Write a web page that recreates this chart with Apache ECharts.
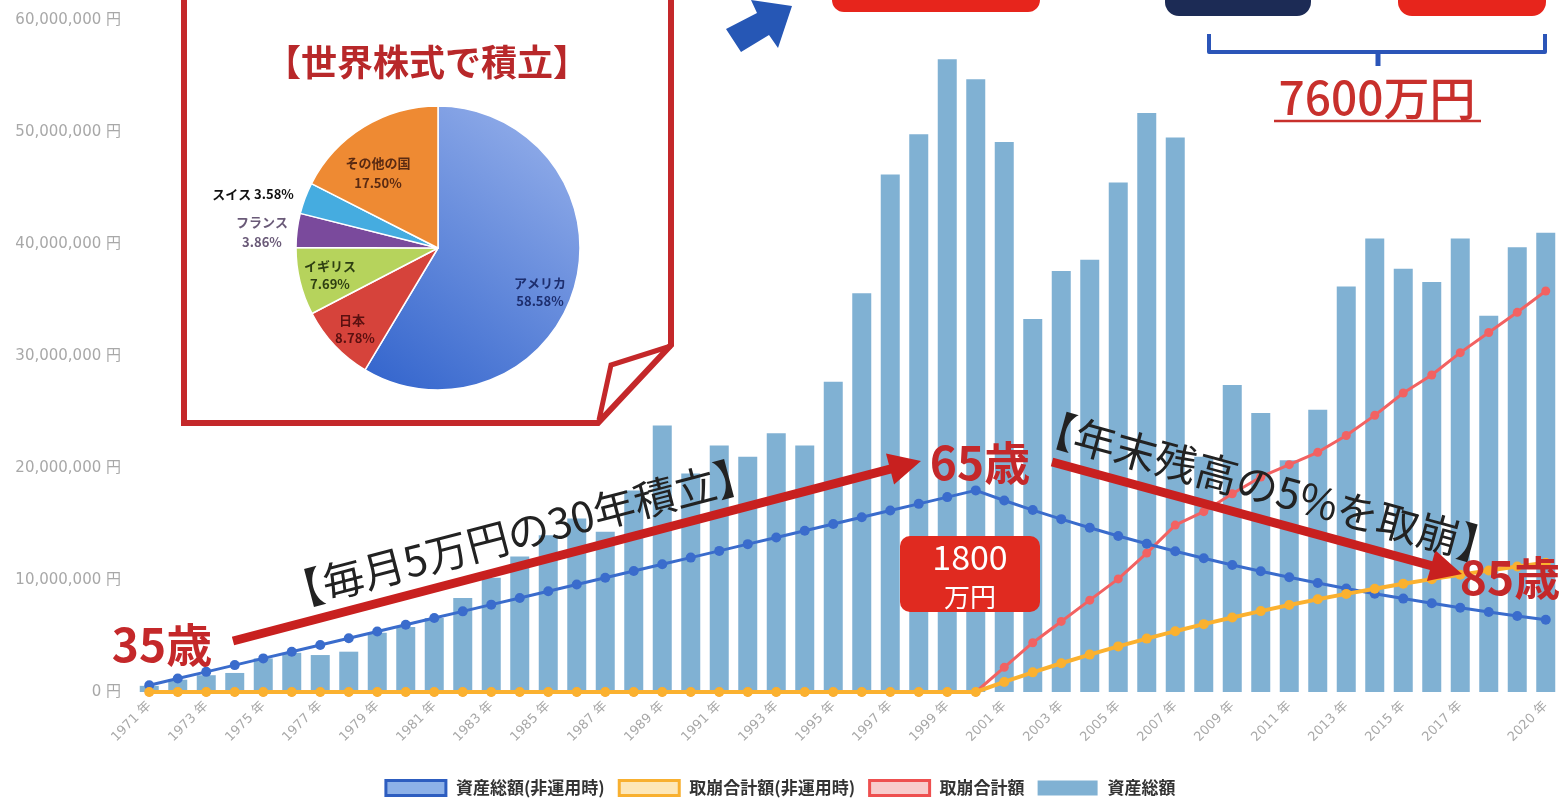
<!DOCTYPE html>
<html><head><meta charset="utf-8">
<script src="https://cdn.jsdelivr.net/npm/echarts@6/dist/echarts.min.js"></script>
<style>html,body{margin:0;padding:0;background:#fff}#c{width:1560px;height:805px}</style>
</head><body><div id="c"></div>
<script>
const years = ['1971','1972','1973','1974','1975','1976','1977','1978','1979','1980',
  '1981','1982','1983','1984','1985','1986','1987','1988','1989','1990',
  '1991','1992','1993','1994','1995','1996','1997','1998','1999','2000',
  '2001','2002','2003','2004','2005','2006','2007','2008','2009','2010',
  '2011','2012','2013','2014','2015','2016','2017','2018','2019','2020'];
// 資産総額 (bars)
const assetTotal = [550000,1100000,1500000,1700000,3000000,3500000,3300000,3600000,5300000,5800000,
  6600000,8400000,10200000,12100000,14000000,15500000,14300000,18000000,23800000,19500000,
  22000000,21000000,23100000,22000000,27700000,35600000,46200000,49800000,56500000,54700000,
  49100000,33300000,37600000,38600000,45500000,51700000,49500000,21000000,27400000,24900000,
  20700000,25200000,36200000,40500000,37800000,36600000,40500000,33600000,39700000,41000000];
// 資産総額(非運用時)
const assetNoInvest = [600000,1200000,1800000,2400000,3000000,3600000,4200000,4800000,5400000,6000000,
  6600000,7200000,7800000,8400000,9000000,9600000,10200000,10800000,11400000,12000000,
  12600000,13200000,13800000,14400000,15000000,15600000,16200000,16800000,17400000,18000000,
  17100000,16245000,15432750,14661113,13928057,13231654,12570071,11941568,11344489,10777265,
  10238402,9726482,9240158,8778150,8339242,7922280,7526166,7149858,6792365,6452747];
// 取崩合計額(非運用時)
const withdrawNoInvest = [0,0,0,0,0,0,0,0,0,0, 0,0,0,0,0,0,0,0,0,0, 0,0,0,0,0,0,0,0,0,0,
  900000,1755000,2567250,3338887,4071943,4768346,5429929,6058432,6655511,7222735,
  7761598,8273518,8759842,9221850,9660758,10077720,10473834,10850142,11207635,11547253];
// 取崩合計額
const withdrawTotal = [0,0,0,0,0,0,0,0,0,0, 0,0,0,0,0,0,0,0,0,0, 0,0,0,0,0,0,0,0,0,0,
  2200000,4400000,6300000,8200000,10100000,12400000,14900000,16100000,17700000,19200000,
  20300000,21400000,22900000,24700000,26700000,28300000,30300000,32100000,33900000,35800000];
const seriesNames = ['資産総額(非運用時)','取崩合計額(非運用時)','取崩合計額','資産総額'];
const pieNames = ['アメリカ','日本','イギリス','フランス','スイス','その他の国'];
const pieValues = [58.58,8.78,7.69,3.86,3.58,17.50];
const pieColors = ['#4a78d2','#d6433b','#b6d35c','#7a4a9c','#45ace0','#ee8a33'];

const F = '"Noto Sans CJK JP", "Noto Sans", sans-serif';
const RED = '#c4282a';
const chart = echarts.init(document.getElementById('c'));

function fmtYen(v){ return String(v).replace(/\B(?=(\d{3})+(?!\d))/g, ',') + ' 円'; }

function arrow(x1,y1,x2,y2,head,halfW,w,color){
  const dx=x2-x1, dy=y2-y1, L=Math.hypot(dx,dy), ux=dx/L, uy=dy/L, nx=-uy, ny=ux;
  const bx=x2-head*ux, by=y2-head*uy;
  return [
    {type:'line', z:300, shape:{x1:x1,y1:y1,x2:bx+ux*2,y2:by+uy*2}, style:{stroke:color,lineWidth:w}},
    {type:'polygon', z:300, shape:{points:[[x2,y2],[bx+halfW*nx,by+halfW*ny],[bx-halfW*nx,by-halfW*ny]]}, style:{fill:color}}
  ];
}
function txt(x,y,text,size,color,weight,extra){
  return Object.assign({type:'text', z:310, x:x, y:y, style:{text:text, x:0, y:0, fill:color, font:(weight||'normal')+' '+size+'px '+F, textAlign:'center', textVerticalAlign:'middle'}}, extra||{});
}

const graphics = [
  // inset box
  {type:'polygon', z:100, shape:{points:[[184,-10],[671,-10],[671,345],[598,423],[184,423]]}, style:{fill:'#fff', stroke:RED, lineWidth:6, lineJoin:'miter'}},
  {type:'polyline', z:101, shape:{points:[[671,346],[611,365],[599,420]]}, style:{stroke:RED, lineWidth:5, fill:null}},
  txt(427,62,'【世界株式で積立】',36,'#b8282a','bold'),
  // pie labels
  txt(378,163,'その他の国',13,'#5a2a12','bold'), txt(378,183,'17.50%',13,'#5a2a12','bold'),
  txt(253,194,'スイス 3.58%',13,'#111','bold'),
  txt(262,222,'フランス',13,'#6a5a78','bold'), txt(262,242,'3.86%',13,'#6a5a78','bold'),
  txt(330,266,'イギリス',13,'#2e3f12','bold'), txt(330,284,'7.69%',13,'#2e3f12','bold'),
  txt(352,320,'日本',13,'#5a1010','bold'), txt(355,338,'8.78%',13,'#5a1010','bold'),
  txt(540,283,'アメリカ',13,'#1d2e6e','bold'), txt(540,301,'58.58%',13,'#1d2e6e','bold'),
  // top decorations
  {type:'rect', z:300, shape:{x:832,y:-24,width:208,height:36,r:12}, style:{fill:'#e7251c'}},
  {type:'rect', z:300, shape:{x:1165,y:-24,width:146,height:40,r:14}, style:{fill:'#1c2b55'}},
  {type:'rect', z:300, shape:{x:1398,y:-24,width:148,height:40,r:14}, style:{fill:'#e7251c'}},
  {type:'polygon', z:300, shape:{points:[[726,29],[757,13],[751,0],[792,6],[778,48],[769,35],[741,52]]}, style:{fill:'#2657b5'}},
  {type:'polyline', z:300, shape:{points:[[1209,34],[1209,52],[1545,52],[1545,34]]}, style:{stroke:'#2b55b8', lineWidth:4, lineJoin:'round', fill:null}},
  {type:'line', z:300, shape:{x1:1378,y1:52,x2:1378,y2:66}, style:{stroke:'#2b55b8', lineWidth:5}},
  txt(1377,98,'7600万円',46,'#c8302c','500'),
  {type:'line', z:300, shape:{x1:1274,y1:121,x2:1481,y2:121}, style:{stroke:'#c8302c', lineWidth:2.5}},
  // annotations
  ...arrow(233,641,921,461,32,16,9,'#c8201f'),
  ...arrow(1052,462,1462,574,32,16,9,'#c8201f'),
  txt(519,533,'【毎月5万円の30年積立】',42,'#222','normal',{rotation:0.256}),
  txt(1267,487,'【年末残高の5%を取崩】',42,'#222','normal',{rotation:-0.267}),
  txt(162,645,'35歳',46,RED,'bold'),
  txt(980,463,'65歳',46,RED,'bold'),
  txt(1510,578,'85歳',46,RED,'bold'),
  {type:'rect', z:300, shape:{x:900,y:536,width:140,height:76,r:10}, style:{fill:'#e02a20'}},
  txt(970,557,'1800',34,'#fff','normal'),
  txt(970,597,'万円',26,'#fff','normal')
];

chart.setOption({
  animation:false,
  textStyle:{fontFamily:F},
  grid:{left:135, width:1427, top:20, bottom:113, containLabel:false},
  legend:{
    bottom:3, left:'center', icon:'rect', itemWidth:60, itemHeight:15, itemGap:13,
    textStyle:{fontSize:17, fontWeight:'bold', color:'#333', padding:[0,0,0,5]},
    data:[
      {name:seriesNames[0], itemStyle:{color:'#8db1e8', borderColor:'#2d5dc0', borderWidth:3}},
      {name:seriesNames[1], itemStyle:{color:'#fde7b8', borderColor:'#f8b030', borderWidth:3}},
      {name:seriesNames[2], itemStyle:{color:'#f8cccc', borderColor:'#ee5050', borderWidth:3}},
      {name:seriesNames[3], itemStyle:{color:'#80b1d3', borderWidth:0}}
    ]
  },
  xAxis:{
    type:'category', data:years, boundaryGap:true,
    axisLine:{show:false}, axisTick:{show:false},
    axisLabel:{rotate:45, color:'#a8a8a8', fontSize:13, fontFamily:'"DejaVu Sans", '+F, margin:12, formatter:'{value} 年',
      interval:function(i){ return (i%2===0 && i<48) || i===49; }}
  },
  yAxis:{
    type:'value', min:0, max:60000000, interval:10000000,
    axisLine:{show:false}, axisTick:{show:false}, splitLine:{show:false},
    axisLabel:{color:'#a8a8a8', fontSize:15, fontFamily:'"DejaVu Sans", '+F, margin:14, formatter:fmtYen}
  },
  series:[
    {name:seriesNames[3], type:'bar', data:assetTotal, barWidth:19, itemStyle:{color:'#80b1d3'}, z:2},
    {name:seriesNames[2], type:'line', data:withdrawTotal, symbol:'circle', symbolSize:9,
      lineStyle:{color:'#f26262', width:3}, itemStyle:{color:'#f26262'}, z:3},
    {name:seriesNames[0], type:'line', data:assetNoInvest, symbol:'circle', symbolSize:10,
      lineStyle:{color:'#3a6ccc', width:3}, itemStyle:{color:'#3a6ccc'}, z:4},
    {name:seriesNames[1], type:'line', data:withdrawNoInvest, symbol:'circle', symbolSize:10,
      lineStyle:{color:'#fbb12f', width:4}, itemStyle:{color:'#fbb12f'}, z:5},
    {type:'pie', name:'世界株式', center:[438,248], radius:142, startAngle:90, clockwise:true,
      z:200, silent:true, label:{show:false}, labelLine:{show:false},
      itemStyle:{borderColor:'#fff', borderWidth:1.5},
      data:pieNames.map(function(n,i){
        const c = i===0 ? new echarts.graphic.LinearGradient(1,0,0,1,[{offset:0,color:'#9bb4ec'},{offset:1,color:'#3163cc'}]) : pieColors[i];
        return {name:n, value:pieValues[i], itemStyle:{color:c}};
      })}
  ],
  graphic:graphics
});
</script></body></html>
